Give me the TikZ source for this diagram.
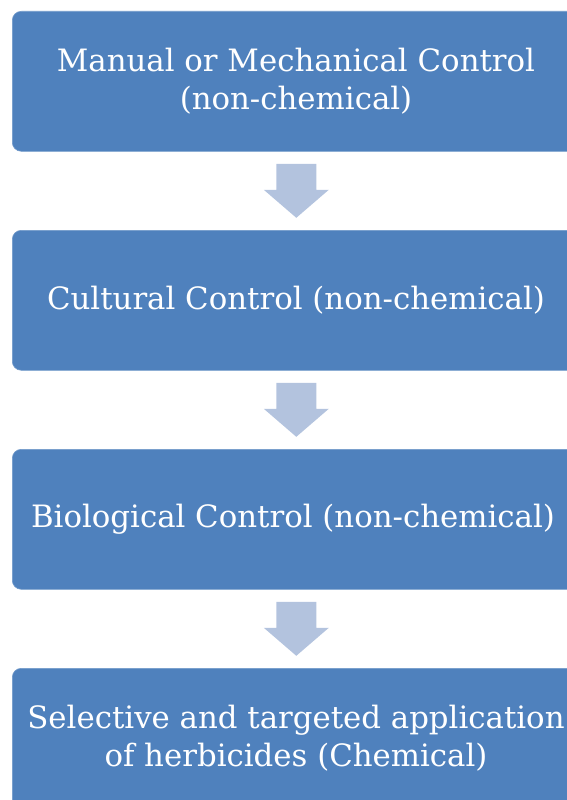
\documentclass[tikz,border=0pt]{standalone}
\usepackage{fontspec}
\setmainfont{DejaVu Serif}
\usetikzlibrary{calc}
\definecolor{boxblue}{HTML}{4F81BD}
\definecolor{arrowblue}{HTML}{B3C3DE}
\tikzset{
  stepbox/.style={fill=boxblue, draw=boxblue!80!white, line width=0.6pt, rounded corners=9pt,
    minimum width=568pt, minimum height=140pt, anchor=north west, inner sep=0pt},
  boxtext/.style={text=white, align=center, font=\fontsize{30.8}{38}\selectfont},
  downarrow/.style={fill=arrowblue}
}
\begin{document}
\begin{tikzpicture}[x=1pt,y=-1pt]
\useasboundingbox (0,0) rectangle (567,800);
\begin{scope}
\clip (0,0) rectangle (567,800);
\node[stepbox] (b1) at (12,11) {};
\node[stepbox] (b2) at (12,230) {};
\node[stepbox] (b3) at (12,449) {};
\node[stepbox] (b4) at (12,668) {};
\end{scope}
\node[boxtext] (t1) at (296,81) {Manual or Mechanical Control\\(non-chemical)};
\node[boxtext] (t2) at (296,300) {Cultural Control (non-chemical)};
\node[boxtext] (t3) at (293,519) {Biological Control (non-chemical)};
\node[boxtext] (t4) at (296,738) {Selective and targeted application\\of herbicides (Chemical)};
\foreach \a/\b in {b1/b2,b2/b3,b3/b4}{
  \coordinate (m) at ($(\a.south)!0.5!(\b.north)$);
  \fill[downarrow] ($(m)+(-20,-27)$) -- ($(m)+(20,-27)$) -- ($(m)+(20,-1)$) -- ($(m)+(32.5,-1)$)
     -- ($(m)+(0,27)$) -- ($(m)+(-32.5,-1)$) -- ($(m)+(-20,-1)$) -- cycle;
}
\end{tikzpicture}
\end{document}
